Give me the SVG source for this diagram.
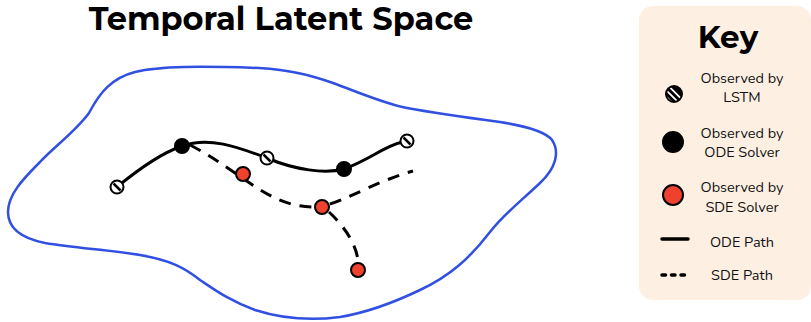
<svg xmlns="http://www.w3.org/2000/svg" width="811" height="322" viewBox="0 0 811 322">
<defs>
<style>
.title{font-family:"Montserrat","Liberation Sans",Arial,sans-serif;font-weight:700;fill:#000}
.lbl{font-family:"Nunito","Open Sans","Noto Sans",sans-serif;font-size:14.5px;fill:#111;text-anchor:middle}
.solid{fill:none;stroke:#000;stroke-width:3;stroke-linecap:round}
.dash{fill:none;stroke:#000;stroke-width:3;stroke-dasharray:12 9;stroke-linecap:butt}
.ode{fill:#000;stroke:#000;stroke-width:2}
.sde{fill:#F0412E;stroke:#000;stroke-width:2}
.lstm{fill:#fff;stroke:#000;stroke-width:2}
</style>
<clipPath id="keyLstmClip"><circle cx="0" cy="0" r="8"/></clipPath>
</defs>
<rect width="811" height="322" fill="#fff"/>
<text class="title" x="281" y="30" font-size="32" text-anchor="middle">Temporal Latent Space</text>

<g id="latent-space">
<path d="M89,113 C100,92 112,78 135,72 C160,66 200,66 259,68 C290,70 310,75 333,83 C360,93 385,104 407,108 C440,114 470,118 500,122 C525,126 545,131 552,140 C560,152 556,168 540,183 C520,202 505,213 490,232 C470,258 450,276 420,290 C395,302 370,312 340,317 C310,321 280,318 255,310 C230,301 215,290 200,280 C185,268 170,260 140,255 C110,250 75,248 45,243 C20,238 8,228 8,212 C8,195 22,180 40,162 C55,146 75,132 89,113 Z" fill="none" stroke="#3150E2" stroke-width="2.5"/>
</g>

<g id="connectors">
<path class="solid" d="M117,187 C140,168 162,153 182,146 C210,136 240,148 267,158 C295,170 325,174 344,169 C370,160 385,145 407,141"/>
<path class="dash" d="M190,145 C220,160 250,186 275,198 C290,205 305,208 322,207"/>
<path class="dash" d="M330,204 C350,198 380,180 413,171"/>
<path class="dash" d="M329,212 C343,225 357,244 358,262"/>
</g>

<g id="node-lstm-1"><circle class="lstm" cx="117" cy="187" r="6.5"/><line x1="113.5" y1="183.5" x2="120.5" y2="190.5" stroke="#000" stroke-width="2.5"/></g>
<g id="node-ode-1"><circle class="ode" cx="182" cy="146" r="7"/></g>
<g id="node-lstm-2"><circle class="lstm" cx="267" cy="158" r="6.5"/><line x1="263.5" y1="154.5" x2="270.5" y2="161.5" stroke="#000" stroke-width="2.5"/></g>
<g id="node-ode-2"><circle class="ode" cx="344" cy="169" r="7"/></g>
<g id="node-lstm-3"><circle class="lstm" cx="407" cy="141" r="6.5"/><line x1="403.5" y1="137.5" x2="410.5" y2="144.5" stroke="#000" stroke-width="2.5"/></g>
<g id="node-sde-1"><circle class="sde" cx="243" cy="174" r="7"/></g>
<g id="node-sde-2"><circle class="sde" cx="322" cy="207" r="7"/></g>
<g id="node-sde-3"><circle class="sde" cx="358" cy="270" r="7"/></g>

<g id="key">
<rect x="639" y="6" width="172" height="294" rx="14" fill="#FDF0E3"/>
<text class="title" x="728" y="48" font-size="31" text-anchor="middle">Key</text>
<g id="key-lstm" transform="translate(674,94)">
<circle r="8" fill="#000"/>
<g clip-path="url(#keyLstmClip)" stroke="#fff" stroke-width="1.8">
<line x1="-10" y1="-6" x2="6" y2="10"/>
<line x1="-7" y1="-9.5" x2="9.5" y2="7"/>
<line x1="-13" y1="-2.5" x2="2.5" y2="13"/>
</g>
<circle r="8" fill="none" stroke="#000" stroke-width="2"/>
</g>
<text class="lbl" x="742" y="83">Observed by</text>
<text class="lbl" x="742" y="102">LSTM</text>
<circle class="ode" cx="673" cy="142" r="10"/>
<text class="lbl" x="742" y="138">Observed by</text>
<text class="lbl" x="742" y="157">ODE Solver</text>
<circle class="sde" cx="673" cy="195" r="10"/>
<text class="lbl" x="742" y="192">Observed by</text>
<text class="lbl" x="742" y="212">SDE Solver</text>
<line x1="662" y1="239" x2="688" y2="239" stroke="#000" stroke-width="3.5" stroke-linecap="round"/>
<text class="lbl" x="742" y="247">ODE Path</text>
<line x1="662" y1="275" x2="688" y2="275" stroke="#000" stroke-width="3.5" stroke-linecap="round" stroke-dasharray="3.5 6"/>
<text class="lbl" x="742" y="280">SDE Path</text>
</g>
</svg>
